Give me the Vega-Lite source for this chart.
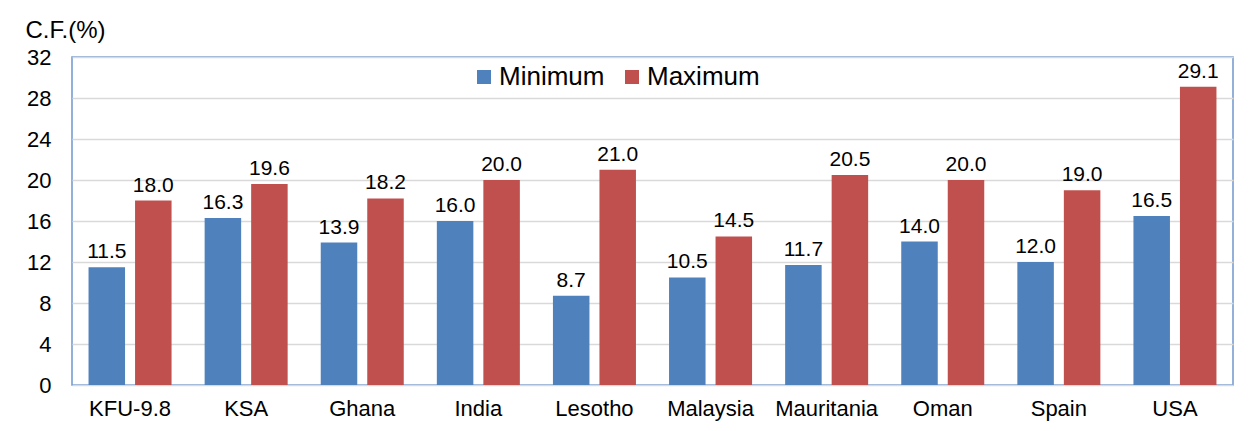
{
  "$schema": "https://vega.github.io/schema/vega-lite/v6.json",
  "width": 1161,
  "height": 328,
  "autosize": "none",
  "padding": {"left": 72, "top": 57, "right": 17, "bottom": 46},
  "background": "white",
  "data": {
    "values": [
      {"site": "KFU-9.8", "series": "Minimum", "cf": 11.5},
      {"site": "KFU-9.8", "series": "Maximum", "cf": 18.0},
      {"site": "KSA", "series": "Minimum", "cf": 16.3},
      {"site": "KSA", "series": "Maximum", "cf": 19.6},
      {"site": "Ghana", "series": "Minimum", "cf": 13.9},
      {"site": "Ghana", "series": "Maximum", "cf": 18.2},
      {"site": "India", "series": "Minimum", "cf": 16.0},
      {"site": "India", "series": "Maximum", "cf": 20.0},
      {"site": "Lesotho", "series": "Minimum", "cf": 8.7},
      {"site": "Lesotho", "series": "Maximum", "cf": 21.0},
      {"site": "Malaysia", "series": "Minimum", "cf": 10.5},
      {"site": "Malaysia", "series": "Maximum", "cf": 14.5},
      {"site": "Mauritania", "series": "Minimum", "cf": 11.7},
      {"site": "Mauritania", "series": "Maximum", "cf": 20.5},
      {"site": "Oman", "series": "Minimum", "cf": 14.0},
      {"site": "Oman", "series": "Maximum", "cf": 20.0},
      {"site": "Spain", "series": "Minimum", "cf": 12.0},
      {"site": "Spain", "series": "Maximum", "cf": 19.0},
      {"site": "USA", "series": "Minimum", "cf": 16.5},
      {"site": "USA", "series": "Maximum", "cf": 29.1}
    ]
  },
  "encoding": {
    "x": {
      "field": "site",
      "type": "nominal",
      "sort": null,
      "scale": {"paddingInner": 0.285, "paddingOuter": 0.1425},
      "axis": {
        "title": null,
        "labelAngle": 0,
        "labelFont": "Liberation Sans",
        "labelFontSize": 22,
        "labelColor": "#000000",
        "labelPadding": 13,
        "ticks": false,
        "domain": false
      }
    },
    "xOffset": {
      "field": "series",
      "type": "nominal",
      "sort": ["Minimum", "Maximum"],
      "scale": {"paddingInner": 0.215, "paddingOuter": 0}
    },
    "y": {
      "field": "cf",
      "type": "quantitative",
      "scale": {"domain": [0, 32], "nice": false},
      "axis": {
        "values": [0, 4, 8, 12, 16, 20, 24, 28, 32],
        "title": "C.F.(%)",
        "titleAngle": 0,
        "titleAlign": "left",
        "titleBaseline": "alphabetic",
        "titleX": -47,
        "titleY": -20,
        "titleFont": "Liberation Sans",
        "titleFontSize": 24,
        "titleFontWeight": "normal",
        "titleColor": "#000000",
        "labelFont": "Liberation Sans",
        "labelFontSize": 22,
        "labelColor": "#000000",
        "labelPadding": 21,
        "ticks": false,
        "domain": false,
        "grid": true,
        "gridColor": "#d9d9d9",
        "gridWidth": 1.5
      }
    }
  },
  "layer": [
    {
      "mark": {"type": "bar"},
      "encoding": {
        "color": {
          "field": "series",
          "type": "nominal",
          "sort": ["Minimum", "Maximum"],
          "scale": {"domain": ["Minimum", "Maximum"], "range": ["#4f81bd", "#c0504d"]},
          "legend": {
            "title": null,
            "orient": "none",
            "direction": "horizontal",
            "legendX": 399,
            "legendY": 7,
            "symbolType": "square",
            "symbolSize": 196,
            "symbolStrokeWidth": 0,
            "labelFont": "Liberation Sans",
            "labelFontSize": 26,
            "labelColor": "#000000",
            "labelOffset": 2,
            "columnPadding": 14
          }
        }
      }
    },
    {
      "mark": {
        "type": "text",
        "baseline": "alphabetic",
        "dy": -9,
        "font": "Liberation Sans",
        "fontSize": 21,
        "color": "#000000"
      },
      "encoding": {
        "text": {"field": "cf", "type": "quantitative", "format": ".1f"}
      }
    }
  ],
  "config": {
    "view": {"stroke": "#6f97cd", "strokeWidth": 1.5}
  }
}
